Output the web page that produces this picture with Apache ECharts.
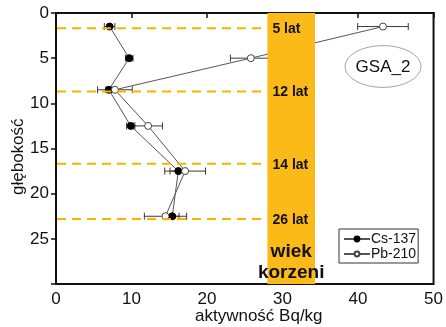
<!DOCTYPE html>
<html><head><meta charset="utf-8">
<script src="https://cdn.jsdelivr.net/npm/echarts@6/dist/echarts.min.js"></script>
<style>html,body{margin:0;padding:0;background:#fff}#c{width:446px;height:327px}</style>
</head><body><div id="c"></div>
<script>
// ---- data ----
const depth = [1.5, 5, 8.5, 12.5, 17.5, 22.5];
const cs137 = [7.1, 9.7, 7.0, 9.9, 16.2, 15.4];
const cs137Err = [0.7, 0.5, 0.4, 0.55, 1.1, 0.9];
const pb210 = [43.3, 25.8, 7.8, 12.2, 17.1, 14.5];
const pb210Err = [3.35, 2.7, 2.3, 1.9, 2.7, 2.8];
const ageDepth = [1.7, 8.7, 16.7, 22.8];
const ageLabels = ['5 lat', '12 lat', '14 lat', '26 lat'];
const rootAge = [28, 34.3];
const xTicks = [0, 10, 20, 30, 40, 50];
const yTicks = [0, 5, 10, 15, 20, 25];

const FONT = '"Liberation Sans", Arial, sans-serif';
const chart = echarts.init(document.getElementById('c'));

function errSeries(vals, errs) {
  return {
    type: 'custom', z: 3, silent: true,
    data: vals.map((v, i) => [v - errs[i], v + errs[i], depth[i]]),
    renderItem: function (params, api) {
      const a = api.coord([api.value(0), api.value(2)]);
      const b = api.coord([api.value(1), api.value(2)]);
      const h = 3.5;
      const st = {stroke: '#3a3a3a', lineWidth: 1};
      return {type: 'group', children: [
        {type: 'line', shape: {x1: a[0], y1: a[1], x2: b[0], y2: b[1]}, style: st},
        {type: 'line', shape: {x1: a[0], y1: a[1] - h, x2: a[0], y2: a[1] + h}, style: st},
        {type: 'line', shape: {x1: b[0], y1: b[1] - h, x2: b[0], y2: b[1] + h}, style: st}
      ]};
    }
  };
}

chart.setOption({
  animation: false,
  grid: {left: 56, top: 13, right: 12, bottom: 43, show: true, borderColor: '#111', borderWidth: 2},
  xAxis: {
    type: 'value', min: 0, max: 50, interval: 10,
    axisLine: {show: true, lineStyle: {color: '#111', width: 2}},
    axisTick: {show: true, length: 5, lineStyle: {color: '#111', width: 1.5}},
    splitLine: {show: false},
    axisLabel: {color: '#111', fontSize: 17, fontFamily: FONT, margin: 7,
      formatter: v => xTicks.includes(v) ? String(v) : ''}
  },
  yAxis: {
    type: 'value', min: 0, max: 30, interval: 5, inverse: true,
    axisLine: {show: true, lineStyle: {color: '#111', width: 2}},
    axisTick: {show: true, length: 5, lineStyle: {color: '#111', width: 1.5}},
    splitLine: {show: false},
    axisLabel: {color: '#111', fontSize: 17, fontFamily: FONT, margin: 7,
      formatter: v => yTicks.includes(v) ? String(v) : ''}
  },
  legend: {
    left: 339, top: 229, orient: 'vertical', itemGap: 1, itemWidth: 26, itemHeight: 6,
    padding: [3, 2, 2, 4], borderColor: '#333', borderWidth: 1,
    textStyle: {fontSize: 14, fontFamily: FONT, color: '#111', padding: [0, 0, 0, -4]},
    data: ['Cs-137', 'Pb-210']
  },
  graphic: [
    {type: 'text', left: 195, top: 308, style: {text: 'aktywność Bq/kg', font: '17px ' + FONT, fill: '#111'}},
    {type: 'text', x: 10, y: 195, rotation: Math.PI / 2, style: {text: 'głębokość', font: '17px ' + FONT, fill: '#111'}},
    {type: 'circle', x: 383, y: 66.5, scaleY: 0.55, shape: {r: 38}, style: {fill: 'none', stroke: '#888', lineWidth: 1}},
    {type: 'text', x: 383, y: 67, style: {text: 'GSA_2', font: '17px ' + FONT, fill: '#111', align: 'center', verticalAlign: 'middle'}}
  ],
  series: [
    {
      name: 'Cs-137', type: 'line', z: 4,
      data: cs137.map((v, i) => [v, depth[i]]),
      lineStyle: {color: '#555', width: 1},
      itemStyle: {color: '#000', borderColor: '#000', borderWidth: 1},
      symbol: 'circle', symbolSize: 7
    },
    {
      name: 'Pb-210', type: 'line', z: 4,
      data: pb210.map((v, i) => [v, depth[i]]),
      lineStyle: {color: '#555', width: 1},
      itemStyle: {color: '#fff', borderColor: '#444', borderWidth: 1},
      symbol: 'circle', symbolSize: 7
    },
    errSeries(cs137, cs137Err),
    errSeries(pb210, pb210Err),
    {
      type: 'custom', z: 6, silent: true,
      data: [[rootAge[0], rootAge[1]]],
      renderItem: function (params, api) {
        const p0 = api.coord([api.value(0), 0]);
        const p1 = api.coord([api.value(1), 30]);
        const cx = (p0[0] + p1[0]) / 2;
        return {type: 'group', children: [
          {type: 'rect', shape: {x: p0[0], y: p0[1], width: p1[0] - p0[0], height: p1[1] - p0[1]}, style: {fill: '#FBBA17'}},
          {type: 'text', x: cx, y: p1[1] - 1, style: {text: 'wiek\nkorzeni', font: 'bold 19px ' + FONT, fill: '#111', align: 'center', verticalAlign: 'bottom', lineHeight: 20.5}}
        ]};
      }
    },
    {
      type: 'custom', z: 7, silent: true,
      data: ageDepth.map((d, i) => [0, rootAge[0], d]),
      renderItem: function (params, api) {
        const a = api.coord([api.value(0), api.value(2)]);
        const b = api.coord([api.value(1), api.value(2)]);
        return {type: 'group', children: [
          {type: 'line', shape: {x1: a[0] + 1, y1: a[1], x2: b[0], y2: b[1]},
            style: {stroke: '#F7B500', lineWidth: 2, lineDash: [9, 6]}},
          {type: 'text', x: b[0] + 5, y: b[1] + 1,
            style: {text: ageLabels[params.dataIndex], font: 'bold 14px ' + FONT, fill: '#111', align: 'left', verticalAlign: 'middle'}}
        ]};
      }
    }
  ]
});
</script></body></html>
